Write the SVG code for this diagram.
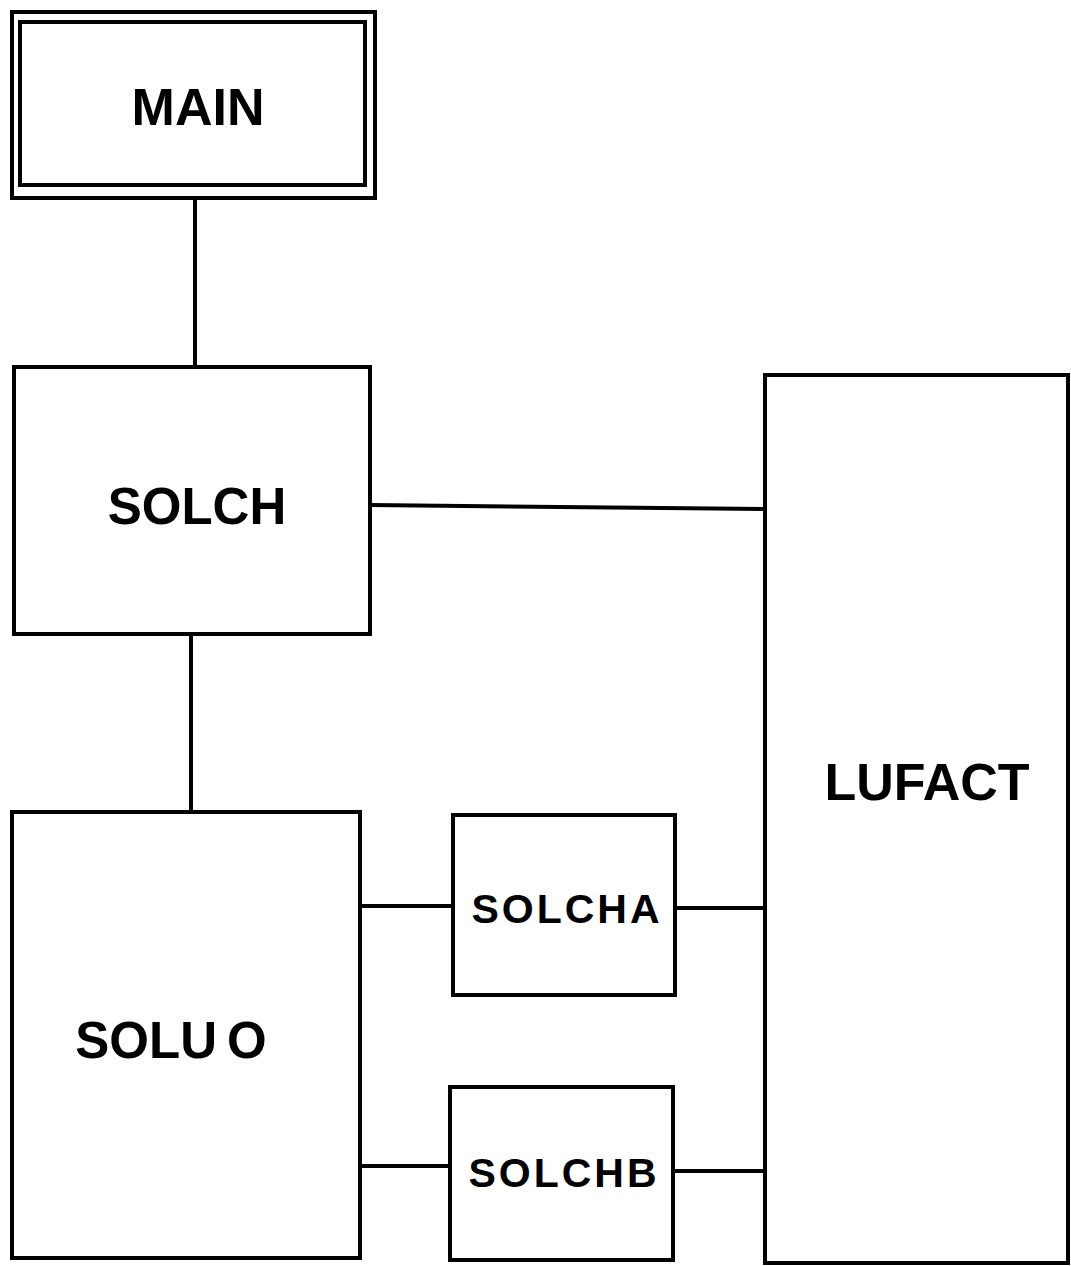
<svg xmlns="http://www.w3.org/2000/svg" width="1071" height="1266" viewBox="0 0 1071 1266">
<style>
.box{fill:#fff;stroke:#000;stroke-width:4}
.ln{stroke:#000;stroke-width:4;fill:none}
.t{font-family:"Liberation Sans",Arial,sans-serif;font-weight:bold;fill:#000;text-anchor:middle}
</style>
<rect width="1071" height="1266" fill="#fff"/>
<g id="connectors">
<line class="ln" x1="195" y1="198" x2="195" y2="367"/>
<line class="ln" x1="191" y1="634" x2="191" y2="812"/>
<line class="ln" x1="370" y1="505" x2="765" y2="509"/>
<line class="ln" x1="360" y1="906" x2="453" y2="906"/>
<line class="ln" x1="675" y1="908" x2="765" y2="908"/>
<line class="ln" x1="360" y1="1166" x2="450" y2="1166"/>
<line class="ln" x1="673" y1="1171" x2="765" y2="1171"/>
</g>
<g id="MAIN">
<rect class="box" x="12" y="12" width="363" height="186"/>
<rect class="box" x="20" y="22" width="345" height="163" stroke-width="3"/>
<text class="t" x="198" y="125" font-size="52">MAIN</text>
</g>
<g id="SOLCH">
<rect class="box" x="14" y="367" width="356" height="267"/>
<text class="t" x="197" y="524" font-size="51">SOLCH</text>
</g>
<g id="SOLUO">
<rect class="box" x="12" y="812" width="348" height="446"/>
<text class="t" x="171" y="1058" font-size="51">SOLU<tspan dx="10">O</tspan></text>
</g>
<g id="SOLCHA">
<rect class="box" x="453" y="815" width="222" height="180"/>
<text class="t" x="567" y="923" font-size="41" letter-spacing="3">SOLCHA</text>
</g>
<g id="SOLCHB">
<rect class="box" x="450" y="1087" width="223" height="173"/>
<text class="t" x="564" y="1187" font-size="41" letter-spacing="3">SOLCHB</text>
</g>
<g id="LUFACT">
<rect class="box" x="765" y="375" width="303" height="888"/>
<text class="t" x="927" y="800" font-size="52">LUFACT</text>
</g>
</svg>
